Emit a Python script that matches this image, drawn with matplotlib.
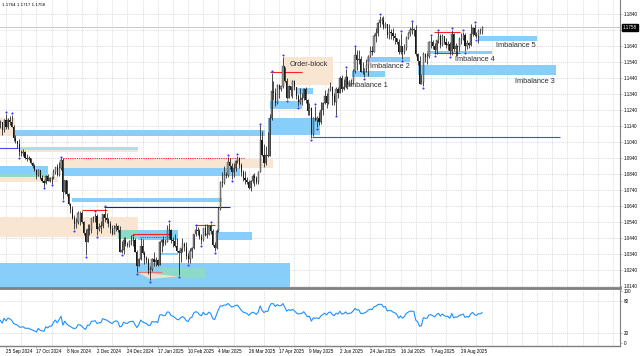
import numpy as np
import pandas as pd
import matplotlib
matplotlib.use("Agg")
import matplotlib.pyplot as plt
import matplotlib.transforms as mtransforms

plt.rcParams["font.family"] = ["Liberation Sans", "DejaVu Sans"]

# EURUSD daily bars, 20 Sep 2024 .. 15 Sep 2025 (no bars on 25 Dec and 1 Jan)
first_day = "2024-09-20"
last_day = "2025-09-15"
closed_days = ["2024-12-25", "2025-01-01"]

highs = [
    1.1180, 1.1168, 1.1183, 1.1214, 1.1190, 1.1202, 1.1209, 1.1145, 1.1083, 1.1046,
    1.1059, 1.0987, 1.0999, 1.0983, 1.0968, 1.0954, 1.0941, 1.0915, 1.0903, 1.0871,
    1.0869, 1.0866, 1.0831, 1.0805, 1.0833, 1.0841, 1.0822, 1.0829, 1.0870, 1.0885,
    1.0905, 1.0913, 1.0937, 1.0937, 1.0805, 1.0802, 1.0721, 1.0658, 1.0637, 1.0582,
    1.0568, 1.0608, 1.0610, 1.0609, 1.0548, 1.0497, 1.0530, 1.0525, 1.0568, 1.0580,
    1.0595, 1.0590, 1.0534, 1.0545, 1.0590, 1.0630, 1.0595, 1.0563, 1.0545, 1.0524,
    1.0524, 1.0535, 1.0520, 1.0513, 1.0423, 1.0446, 1.0445, 1.0415, 1.0428, 1.0457,
    1.0450, 1.0442, 1.0368, 1.0315, 1.0437, 1.0436, 1.0356, 1.0325, 1.0318, 1.0266,
    1.0318, 1.0353, 1.0319, 1.0311, 1.0420, 1.0435, 1.0450, 1.0434, 1.0520, 1.0533,
    1.0495, 1.0445, 1.0468, 1.0441, 1.0365, 1.0380, 1.0441, 1.0412, 1.0413, 1.0344,
    1.0375, 1.0385, 1.0462, 1.0513, 1.0508, 1.0494, 1.0462, 1.0505, 1.0528, 1.0528,
    1.0515, 1.0528, 1.0495, 1.0415, 1.0494, 1.0631, 1.0796, 1.0855, 1.0889, 1.0855,
    1.0947, 1.0940, 1.0906, 1.0906, 1.0925, 1.0955, 1.0948, 1.0910, 1.0863, 1.0860,
    1.0823, 1.0805, 1.0805, 1.0840, 1.0849, 1.0830, 1.0860, 1.1144, 1.1107, 1.1028,
    1.1016, 1.1100, 1.1214, 1.1473, 1.1420, 1.1380, 1.1400, 1.1400, 1.1391, 1.1573,
    1.1510, 1.1437, 1.1395, 1.1392, 1.1425, 1.1426, 1.1378, 1.1338, 1.1380, 1.1347,
    1.1379, 1.1385, 1.1310, 1.1285, 1.1260, 1.1195, 1.1266, 1.1201, 1.1229, 1.1288,
    1.1287, 1.1364, 1.1344, 1.1375, 1.1418, 1.1390, 1.1345, 1.1384, 1.1385, 1.1455,
    1.1457, 1.1435, 1.1495, 1.1450, 1.1430, 1.1436, 1.1495, 1.1631, 1.1614, 1.1615,
    1.1580, 1.1540, 1.1501, 1.1560, 1.1585, 1.1641, 1.1640, 1.1715, 1.1753, 1.1790,
    1.1830, 1.1820, 1.1830, 1.1790, 1.1780, 1.1775, 1.1745, 1.1750, 1.1720, 1.1690,
    1.1686, 1.1721, 1.1643, 1.1650, 1.1700, 1.1725, 1.1760, 1.1788, 1.1750, 1.1770,
    1.1595, 1.1580, 1.1465, 1.1600, 1.1598, 1.1595, 1.1670, 1.1700, 1.1680, 1.1660,
    1.1680, 1.1730, 1.1715, 1.1715, 1.1700, 1.1690, 1.1670, 1.1665, 1.1742, 1.1720,
    1.1660, 1.1645, 1.1695, 1.1720, 1.1730, 1.1720, 1.1680, 1.1665, 1.1780, 1.1760,
    1.1780, 1.1730, 1.1745, 1.1755, 1.1764,
]
lows = [
    1.1130, 1.1083, 1.1103, 1.1122, 1.1120, 1.1145, 1.1135, 1.1044, 1.1032, 1.1005,
    1.0951, 1.0955, 1.0955, 1.0935, 1.0920, 1.0925, 1.0905, 1.0880, 1.0860, 1.0811,
    1.0825, 1.0807, 1.0790, 1.0761, 1.0780, 1.0795, 1.0790, 1.0780, 1.0811, 1.0838,
    1.0830, 1.0830, 1.0868, 1.0682, 1.0713, 1.0705, 1.0649, 1.0594, 1.0558, 1.0496,
    1.0500, 1.0525, 1.0522, 1.0533, 1.0460, 1.0332, 1.0415, 1.0458, 1.0473, 1.0541,
    1.0543, 1.0460, 1.0482, 1.0474, 1.0505, 1.0540, 1.0532, 1.0511, 1.0470, 1.0457,
    1.0463, 1.0485, 1.0476, 1.0350, 1.0344, 1.0342, 1.0390, 1.0385, 1.0382, 1.0398,
    1.0390, 1.0350, 1.0226, 1.0262, 1.0300, 1.0343, 1.0280, 1.0281, 1.0214, 1.0178,
    1.0234, 1.0265, 1.0266, 1.0266, 1.0270, 1.0350, 1.0392, 1.0395, 1.0412, 1.0435,
    1.0410, 1.0384, 1.0382, 1.0355, 1.0210, 1.0290, 1.0355, 1.0356, 1.0310, 1.0285,
    1.0283, 1.0315, 1.0370, 1.0455, 1.0456, 1.0433, 1.0403, 1.0420, 1.0455, 1.0440,
    1.0456, 1.0465, 1.0392, 1.0360, 1.0370, 1.0475, 1.0615, 1.0760, 1.0780, 1.0812,
    1.0819, 1.0870, 1.0810, 1.0820, 1.0859, 1.0910, 1.0878, 1.0830, 1.0796, 1.0780,
    1.0778, 1.0745, 1.0733, 1.0782, 1.0766, 1.0778, 1.0780, 1.0850, 1.0950, 1.0881,
    1.0895, 1.0947, 1.0950, 1.1180, 1.1300, 1.1263, 1.1275, 1.1315, 1.1360, 1.1380,
    1.1418, 1.1310, 1.1313, 1.1326, 1.1318, 1.1364, 1.1306, 1.1265, 1.1275, 1.1272,
    1.1300, 1.1284, 1.1210, 1.1206, 1.1065, 1.1075, 1.1170, 1.1132, 1.1145, 1.1150,
    1.1210, 1.1280, 1.1252, 1.1275, 1.1356, 1.1270, 1.1270, 1.1211, 1.1316, 1.1344,
    1.1355, 1.1365, 1.1380, 1.1373, 1.1392, 1.1390, 1.1400, 1.1470, 1.1490, 1.1530,
    1.1475, 1.1465, 1.1446, 1.1480, 1.1453, 1.1570, 1.1585, 1.1600, 1.1663, 1.1700,
    1.1758, 1.1775, 1.1746, 1.1750, 1.1690, 1.1682, 1.1685, 1.1677, 1.1650, 1.1650,
    1.1590, 1.1590, 1.1556, 1.1590, 1.1615, 1.1682, 1.1700, 1.1716, 1.1700, 1.1580,
    1.1520, 1.1400, 1.1400, 1.1391, 1.1540, 1.1530, 1.1562, 1.1630, 1.1620, 1.1590,
    1.1590, 1.1660, 1.1630, 1.1640, 1.1655, 1.1630, 1.1615, 1.1583, 1.1585, 1.1610,
    1.1575, 1.1575, 1.1610, 1.1650, 1.1675, 1.1608, 1.1620, 1.1630, 1.1640, 1.1700,
    1.1705, 1.1690, 1.1660, 1.1715, 1.1717,
]
closes = [
    1.1163, 1.1112, 1.1180, 1.1133, 1.1176, 1.1163, 1.1135, 1.1067, 1.1046, 1.1030,
    1.0975, 1.0974, 1.0978, 1.0941, 1.0936, 1.0937, 1.0908, 1.0890, 1.0863, 1.0833,
    1.0866, 1.0817, 1.0796, 1.0782, 1.0828, 1.0797, 1.0815, 1.0815, 1.0855, 1.0884,
    1.0834, 1.0878, 1.0928, 1.0727, 1.0801, 1.0718, 1.0654, 1.0622, 1.0565, 1.0529,
    1.0541, 1.0597, 1.0594, 1.0543, 1.0471, 1.0418, 1.0496, 1.0487, 1.0564, 1.0566,
    1.0576, 1.0497, 1.0510, 1.0512, 1.0587, 1.0568, 1.0555, 1.0528, 1.0495, 1.0468,
    1.0500, 1.0513, 1.0489, 1.0353, 1.0362, 1.0428, 1.0405, 1.0396, 1.0421, 1.0427,
    1.0430, 1.0355, 1.0265, 1.0307, 1.0390, 1.0345, 1.0318, 1.0300, 1.0243, 1.0244,
    1.0307, 1.0292, 1.0300, 1.0273, 1.0418, 1.0430, 1.0408, 1.0415, 1.0495, 1.0491,
    1.0430, 1.0420, 1.0390, 1.0360, 1.0347, 1.0378, 1.0402, 1.0382, 1.0328, 1.0307,
    1.0361, 1.0378, 1.0465, 1.0491, 1.0482, 1.0445, 1.0425, 1.0500, 1.0460, 1.0466,
    1.0513, 1.0486, 1.0397, 1.0375, 1.0482, 1.0623, 1.0790, 1.0785, 1.0834, 1.0835,
    1.0918, 1.0888, 1.0852, 1.0880, 1.0922, 1.0943, 1.0899, 1.0852, 1.0815, 1.0802,
    1.0791, 1.0753, 1.0799, 1.0829, 1.0814, 1.0791, 1.0850, 1.1050, 1.0961, 1.0910,
    1.0959, 1.0952, 1.1190, 1.1357, 1.1345, 1.1285, 1.1399, 1.1370, 1.1393, 1.1513,
    1.1419, 1.1314, 1.1389, 1.1366, 1.1420, 1.1385, 1.1327, 1.1290, 1.1300, 1.1316,
    1.1370, 1.1300, 1.1233, 1.1250, 1.1090, 1.1190, 1.1175, 1.1188, 1.1162, 1.1243,
    1.1285, 1.1330, 1.1285, 1.1363, 1.1385, 1.1325, 1.1290, 1.1370, 1.1347, 1.1443,
    1.1370, 1.1385, 1.1445, 1.1397, 1.1420, 1.1424, 1.1486, 1.1585, 1.1550, 1.1560,
    1.1480, 1.1480, 1.1495, 1.1523, 1.1580, 1.1610, 1.1600, 1.1700, 1.1720, 1.1786,
    1.1800, 1.1800, 1.1760, 1.1778, 1.1708, 1.1725, 1.1720, 1.1700, 1.1690, 1.1665,
    1.1600, 1.1640, 1.1600, 1.1626, 1.1690, 1.1720, 1.1743, 1.1745, 1.1742, 1.1587,
    1.1545, 1.1405, 1.1415, 1.1587, 1.1572, 1.1575, 1.1663, 1.1665, 1.1642, 1.1617,
    1.1675, 1.1705, 1.1646, 1.1700, 1.1665, 1.1648, 1.1650, 1.1608, 1.1718, 1.1620,
    1.1640, 1.1635, 1.1683, 1.1685, 1.1710, 1.1640, 1.1660, 1.1645, 1.1718, 1.1755,
    1.1710, 1.1700, 1.1735, 1.1734, 1.1758,
]
# closes of the days before the first bar, only there to start the RSI
warmup_closes = [
    1.1192, 1.1161, 1.1183, 1.1118, 1.1077, 1.1047, 1.1073, 1.1045, 1.1089, 1.1112,
    1.1083, 1.1039, 1.1017, 1.1011, 1.1075, 1.1075, 1.1132, 1.1114, 1.1117, 1.1160,
]

header_text = "1.1764 1.1717 1.1758"
price_ticks = [1.0140, 1.0240, 1.0340, 1.0440, 1.0540, 1.0640, 1.0740, 1.0840, 1.0940,
               1.1040, 1.1140, 1.1240, 1.1340, 1.1440, 1.1540, 1.1640, 1.1740, 1.1840]
hidden_tick = 1.1740  # sits under the price box
rsi_ticks = [0, 20, 80, 100]

# fractal marks (bar numbers)
fractal_up = [3, 6, 32, 50, 55, 70, 89, 103, 111, 120, 125, 137, 143, 149, 166, 182,
              187, 200, 211, 217, 227, 231, 238, 244, 250]
fractal_down = [10, 23, 27, 33, 39, 45, 51, 64, 72, 79, 94, 99, 106, 113, 122, 151,
                157, 164, 167, 177, 192, 212, 223, 229, 237, 245, 251]

# zones: (from bar, to bar, low price, high price)
blue_zones = [
    (7.7, 139.5, 1.1078, 1.1115), (-1, 25.1, 1.0840, 1.0890), (33.1, 126.4, 1.0828, 1.0878),
    (37.8, 116.9, 1.0665, 1.0690), (72.6, 93.7, 1.0428, 1.0490), (84.2, 93.7, 1.0334, 1.0346),
    (-1, 152.7, 1.0100, 1.0284), (114.8, 132.7, 1.0428, 1.0478), (141.1, 168.5, 1.1084, 1.1190),
    (142.2, 159.0, 1.1246, 1.1296), (155.9, 164.8, 1.1340, 1.1378), (185.4, 202.8, 1.1446, 1.1484),
    (193.3, 216.0, 1.1540, 1.1571), (220.2, 293.0, 1.1459, 1.1521), (225.0, 259.2, 1.1590, 1.1609),
    (251.8, 282.9, 1.1671, 1.1702),
]
beige_zones = [
    (-1, 7.7, 1.1075, 1.1190), (10.4, 72.6, 1.0978, 1.0993), (-1, 30.4, 1.0790, 1.0821),
    (33.1, 143.8, 1.0878, 1.0934), (-1, 72.6, 1.0446, 1.0571), (149.6, 175.4, 1.1396, 1.1571),
]
teal_zones = [
    (-1, 25.1, 1.0821, 1.0840), (62.0, 72.6, 1.0434, 1.0490), (84.2, 107.9, 1.0190, 1.0253),
]
cyan_zones = [(10.4, 72.6, 1.0993, 1.1009)]
sweep_triangle = [(72.1, 1.0228), (93.7, 1.0200), (79.0, 1.0184)]

# levels: (from bar, to bar, price)
red_levels = [(43.1, 56.2, 1.0615), (70.0, 89.5, 1.0468), (102.6, 113.2, 1.0521),
              (142.2, 159.0, 1.1478), (228.6, 242.3, 1.1728), (228.6, 242.3, 1.1596)]
red_dotted_levels = [(33.1, 129.0, 1.0940), (73.6, 88.4, 1.0446)]
pink_levels = [(72.1, 85.2, 1.0228)]
blue_levels = [(-1, 9.3, 1.1003), (164.3, 295.0, 1.1071)]
navy_levels = [(54.7, 121.1, 1.0634)]

# text labels: (text, bar, price)
zone_labels = [("Order-block", 152.7, 1.1527), ("Imbalance 1", 183.3, 1.1396),
               ("Imbalance 2", 194.9, 1.1511), ("Imbalance 3", 271.3, 1.1421),
               ("Imbalance 4", 239.7, 1.1553), ("Imbalance 5", 261.3, 1.1642)]

dates = pd.bdate_range(first_day, last_day)
dates = dates[~dates.isin(pd.to_datetime(closed_days))]
n = len(dates)
idx = np.arange(n)

h = np.array(highs)
l = np.array(lows)
c = np.array(closes)
o = np.array([warmup_closes[-1]] + closes[:-1])
up = c >= o

# RSI 14 (Wilder)
allc = pd.Series(warmup_closes + closes)
d = allc.diff()
gain = d.clip(lower=0).ewm(alpha=1 / 14, adjust=False).mean()
loss = (-d.clip(upper=0)).ewm(alpha=1 / 14, adjust=False).mean()
rsi = (100 - 100 / (1 + gain / loss)).iloc[-n:].to_numpy()

W, H = 640, 356
fig = plt.figure(figsize=(W / 100, H / 100), dpi=100)
ax = fig.add_axes([0, 1 - 288 / H, 620 / W, 288 / H])
sub = fig.add_axes([0, 1 - 346 / H, 620 / W, 56 / H])

xlim = (-0.16, 326.7)
grid_color = "#c8c8c8"
grid_ls = (0, (1.5, 1.5))

# zones and levels
for x0, x1, lo, hi in blue_zones:
    ax.fill_between([x0, x1], lo, hi, color="#87cefa", lw=0, zorder=1)
for x0, x1, lo, hi in beige_zones:
    ax.fill_between([x0, x1], lo, hi, color="#f8e6d2", lw=0, zorder=1)
for x0, x1, lo, hi in teal_zones:
    ax.fill_between([x0, x1], lo, hi, color="#8edac8", lw=0, zorder=1.1)
for x0, x1, lo, hi in cyan_zones:
    ax.fill_between([x0, x1], lo, hi, color="#a4e2ea", lw=0, zorder=1.1)
ax.add_patch(plt.Polygon(sweep_triangle, closed=True, fc="#f7dccb", ec="none", zorder=1.2))

for x0, x1, p in red_levels:
    ax.hlines(p, x0, x1, color="#ff2020", lw=0.8, zorder=2)
for x0, x1, p in red_dotted_levels:
    ax.hlines(p, x0, x1, color="#ff2020", lw=0.8, ls=(0, (1, 1)), zorder=2)
for x0, x1, p in pink_levels:
    ax.hlines(p, x0, x1, color="#e07878", lw=0.8, zorder=2)
for x0, x1, p in blue_levels:
    ax.hlines(p, x0, x1, color="#4848f0", lw=0.8, zorder=2)
for x0, x1, p in navy_levels:
    ax.hlines(p, x0, x1, color="#1c1ca8", lw=0.8, zorder=2)

# bid line
ax.axhline(c[-1], color="#c0c0c0", lw=0.6, zorder=0.5)

# candles
ax.vlines(idx, l, h, color="#1a1a1a", lw=0.55, zorder=3)
ax.bar(idx[up], (c - o)[up], bottom=o[up], width=0.62, color="#9a9a9a",
       edgecolor="#1a1a1a", lw=0.25, zorder=4)
ax.bar(idx[~up], (o - c)[~up], bottom=c[~up], width=0.62, color="#1a1a1a", lw=0, zorder=4)

ax.scatter(fractal_up, h[fractal_up] + 0.0011, s=2.2, color="#3434ff", lw=0, zorder=5)
ax.scatter(fractal_down, l[fractal_down] - 0.0011, s=2.2, color="#3434ff", lw=0, zorder=5)

for txt, xb, p in zone_labels:
    ax.text(xb, p, txt, fontsize=5.3, color="#303030", ha="left", va="center", zorder=6)

grid_idx = np.arange(3, xlim[1], 8)
ax.set_xlim(*xlim)
ax.set_ylim(1.01275, 1.19275)
ax.set_xticks(grid_idx)
ax.tick_params(axis="x", length=0, labelbottom=False)
ax.yaxis.tick_right()
ax.set_yticks(price_ticks)
ax.set_yticklabels(["" if p == hidden_tick else f"{p:.4f}" for p in price_ticks])
ax.tick_params(axis="y", labelsize=3.3, length=1.5, width=0.4, color="#808080", pad=1)
ax.grid(True, color=grid_color, ls=grid_ls, lw=0.45, zorder=0)
ax.set_axisbelow(True)
for s in ("top", "left"):
    ax.spines[s].set_visible(False)
ax.spines["right"].set_color("#808080")
ax.spines["right"].set_linewidth(0.8)
ax.spines["bottom"].set_color("#808080")
ax.spines["bottom"].set_linewidth(2.0)

blend = mtransforms.blended_transform_factory(ax.transAxes, ax.transData)
ax.text(1.004, c[-1], f"{c[-1]:.4f}", transform=blend, fontsize=3.3, color="white",
        ha="left", va="center", clip_on=False, zorder=10,
        bbox=dict(boxstyle="square,pad=0.2", fc="black", ec="black"))

fig.text(2 / W, 1 - 4.5 / H, header_text, fontsize=3.2, va="center", ha="left")

# RSI window
sub.plot(idx, rsi, color="#1e90ff", lw=0.8)
sub.set_xlim(*xlim)
sub.set_ylim(-5.8, 101.9)
sub.yaxis.tick_right()
sub.set_yticks(rsi_ticks)
sub.set_yticklabels([str(v) for v in rsi_ticks])
sub.tick_params(axis="y", labelsize=3.3, length=1.5, width=0.4, color="#808080", pad=1)
for v in (20, 80):
    sub.axhline(v, color=grid_color, ls=grid_ls, lw=0.45, zorder=0)

label_idx = list(range(3, n, 16))
sub.set_xticks(label_idx)
sub.set_xticklabels([f"{dates[i].day} {dates[i]:%b %Y}" for i in label_idx], ha="left")
sub.set_xticks(grid_idx, minor=True)
sub.tick_params(axis="x", which="major", labelsize=3.3, length=1.5, width=0.4,
                color="#808080", pad=1)
sub.tick_params(axis="x", which="minor", length=0)
sub.grid(True, which="minor", axis="x", color=grid_color, ls=grid_ls, lw=0.45, zorder=0)
for s in ("top", "left"):
    sub.spines[s].set_visible(False)
sub.spines["right"].set_color("#808080")
sub.spines["right"].set_linewidth(0.8)
sub.spines["bottom"].set_color("#808080")
sub.spines["bottom"].set_linewidth(1.0)

fig.savefig("out.png", dpi=100)
